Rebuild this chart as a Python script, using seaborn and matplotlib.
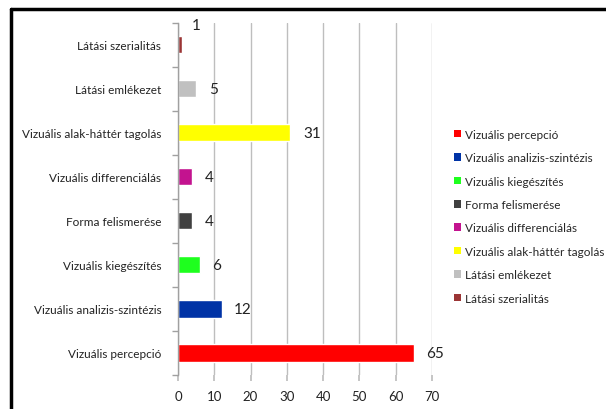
import matplotlib
matplotlib.use("Agg")
import matplotlib.pyplot as plt
import matplotlib.lines as mlines
from matplotlib.patches import Patch
import seaborn as sns
import pandas as pd

# Données
categories = [
    "Vizuális percepció",
    "Vizuális analizis-szintézis",
    "Vizuális kiegészítés",
    "Forma felismerése",
    "Vizuális differenciálás",
    "Vizuális alak-háttér tagolás",
    "Látási emlékezet",
    "Látási szerialitás",
]
values = [65, 12, 6, 4, 4, 31, 5, 1]
colors = ["#FF0000", "#0033A6", "#1EFF1E", "#404040",
          "#C3138F", "#FFFF00", "#C0C0C0", "#9B3535"]
x_ticks = [0, 10, 20, 30, 40, 50, 60, 70]

df = pd.DataFrame({"categorie": categories, "valeur": values})
palette = dict(zip(categories, colors))
plot_order = categories[::-1]

sns.set_theme(style="white")
plt.rcParams["font.family"] = ["Lato", "DejaVu Sans"]

fig = plt.figure(figsize=(6.06, 4.10), dpi=100)
ax = fig.add_axes([0.2937, 0.083, 0.419, 0.859])

sns.barplot(data=df, y="categorie", x="valeur", hue="categorie", order=plot_order,
            hue_order=categories, palette=palette, width=0.39, legend=False,
            saturation=1, ax=ax)

ax.set_xlim(0, 70)
ax.set_xticks(x_ticks)
ax.xaxis.grid(True, color="#BEBEBE", linewidth=1)
ax.set_axisbelow(True)
ax.set_xlabel("")
ax.set_ylabel("")

for side in ["top", "right", "bottom"]:
    ax.spines[side].set_visible(False)
ax.spines["left"].set_color("#A0A0A0")
ax.spines["left"].set_linewidth(1)

ax.tick_params(axis="x", which="major", bottom=True, length=4, color="#BEBEBE",
               labelsize=9.5, labelcolor="#222222", pad=7)
ax.tick_params(axis="y", which="major", left=False, labelsize=8.5,
               labelcolor="#222222", pad=6)
ax.set_yticks([i + 0.5 for i in range(-1, len(categories))], minor=True)
ax.tick_params(axis="y", which="minor", left=True, length=4, color="#A0A0A0")

# Étiquettes de valeurs (le "1" est décalé vers le haut comme dans l'original)
for cont in ax.containers:
    labels = ax.bar_label(cont, padding=9, fontsize=11, color="#222222")
    for bar, txt in zip(cont.patches, labels):
        if bar.get_width() < 2:
            txt.set_va("bottom")
            txt.xyann = (7, 9)

handles = [Patch(facecolor=c, edgecolor="none") for c in colors]
fig.legend(handles, categories, loc="upper left", bbox_to_anchor=(0.742, 0.695),
           frameon=False, fontsize=8.5, handlelength=0.6, handleheight=0.6,
           handletextpad=0.3, labelspacing=1.05, borderaxespad=0)

# Cadre
fig.add_artist(mlines.Line2D([0.018, 0.018], [0, 0.976], color="black", lw=2.5,
                             transform=fig.transFigure))
fig.add_artist(mlines.Line2D([0.018, 1.0], [0.976, 0.976], color="black", lw=2.5,
                             transform=fig.transFigure))

fig.savefig("out.png", dpi=100)
plt.close(fig)
